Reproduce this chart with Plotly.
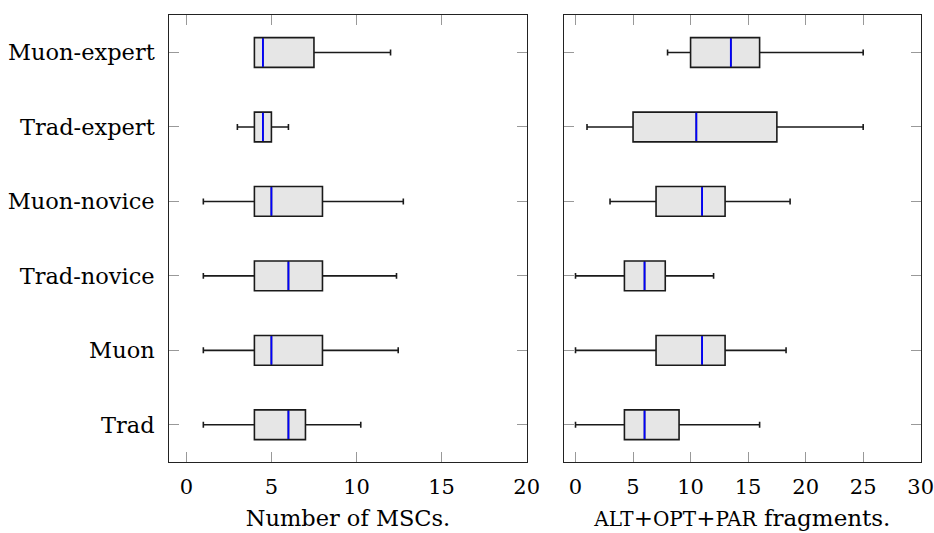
import plotly.graph_objects as go

categories = ["Trad", "Muon", "Trad-novice", "Muon-novice", "Trad-expert", "Muon-expert"]
positions = [1, 2, 3, 4, 5, 6]

# Left panel: Number of MSCs.
msc_low = [1, 1, 1, 1, 3, 4]
msc_q1 = [4, 4, 4, 4, 4, 4]
msc_med = [6, 5, 6, 5, 4.5, 4.5]
msc_q3 = [7, 8, 8, 8, 5, 7.5]
msc_high = [10.25, 12.45, 12.35, 12.75, 6, 12]

# Right panel: ALT+OPT+PAR fragments.
frag_low = [0, 0, 0, 3, 1, 8]
frag_q1 = [4.25, 7, 4.25, 7, 5, 10]
frag_med = [6, 11, 6, 11, 10.5, 13.5]
frag_q3 = [9, 13, 7.8, 13, 17.5, 16]
frag_high = [16, 18.3, 12, 18.65, 25, 25]

x1_ticks = [0, 5, 10, 15, 20]
x2_ticks = [0, 5, 10, 15, 20, 25, 30]

FONT = "DejaVu Serif"
FS_TICK = 21
FS_LAB = 22.5
BOXW = 0.4

fig = go.Figure()

def add_panel(low, q1, med, q3, high, xa, ya):
    fig.add_trace(go.Box(
        y=positions, lowerfence=low, q1=q1, median=med, q3=q3, upperfence=high,
        orientation="h", width=BOXW, whiskerwidth=0.2, boxpoints=False,
        fillcolor="#e6e6e6", line=dict(color="#1a1a1a", width=1.6),
        xaxis=xa, yaxis=ya, showlegend=False, hoverinfo="skip",
    ))
    mx, my = [], []
    for p, m in zip(positions, med):
        mx += [m, m, None]
        my += [p - BOXW / 2 + 0.01, p + BOXW / 2 - 0.01, None]
    fig.add_trace(go.Scatter(
        x=mx, y=my, mode="lines", line=dict(color="#0000ff", width=1.8),
        xaxis=xa, yaxis=ya, showlegend=False, hoverinfo="skip",
    ))

add_panel(msc_low, msc_q1, msc_med, msc_q3, msc_high, "x", "y")
add_panel(frag_low, frag_q1, frag_med, frag_q3, frag_high, "x2", "y2")

ydom = [1 - 462 / 533, 1 - 15.3 / 533]
common_ax = dict(
    showline=True, linecolor="#222", linewidth=1.2, mirror="allticks",
    ticks="inside", ticklen=10, tickcolor="#999", tickwidth=1,
    showgrid=False, zeroline=False, automargin=False,
    ticklabeloverflow="allow",
)

sc = "<span style='font-size:20px'>{}</span>"
frag_title = sc.format("ALT") + "+" + sc.format("OPT") + "+" + sc.format("PAR") + " fragments."

fig.update_layout(
    width=934, height=533,
    margin=dict(l=0, r=0, t=0, b=0),
    paper_bgcolor="white", plot_bgcolor="white",
    font=dict(family=FONT, size=FS_TICK, color="#000"),
    xaxis=dict(
        domain=[169.3 / 934, 526.7 / 934], range=[-1, 20],
        tickvals=x1_ticks, ticktext=[str(v) for v in x1_ticks],
        ticklabelstandoff=6,
        tickfont=dict(family=FONT, size=FS_TICK, color="#000"),
        title=dict(text="Number of MSCs.", standoff=11,
                   font=dict(family=FONT, size=FS_LAB)),
        **common_ax,
    ),
    yaxis=dict(
        domain=ydom, range=[0.5, 6.5],
        tickvals=positions, ticktext=categories,
        ticklabelstandoff=9,
        tickfont=dict(family=FONT, size=FS_LAB, color="#000"),
        **common_ax,
    ),
    xaxis2=dict(
        anchor="y2",
        domain=[564 / 934, 920.7 / 934], range=[-1, 30],
        tickvals=x2_ticks, ticktext=[str(v) for v in x2_ticks],
        ticklabelstandoff=6,
        tickfont=dict(family=FONT, size=FS_TICK, color="#000"),
        title=dict(text=frag_title, standoff=11,
                   font=dict(family=FONT, size=23)),
        **common_ax,
    ),
    yaxis2=dict(
        anchor="x2",
        domain=ydom, range=[0.5, 6.5],
        tickvals=positions, showticklabels=False,
        **common_ax,
    ),
)

fig.write_html(
    "out.html",
    config={"displayModeBar": False},
    post_script="document.body.style.margin='0';document.body.style.overflow='hidden';",
)
